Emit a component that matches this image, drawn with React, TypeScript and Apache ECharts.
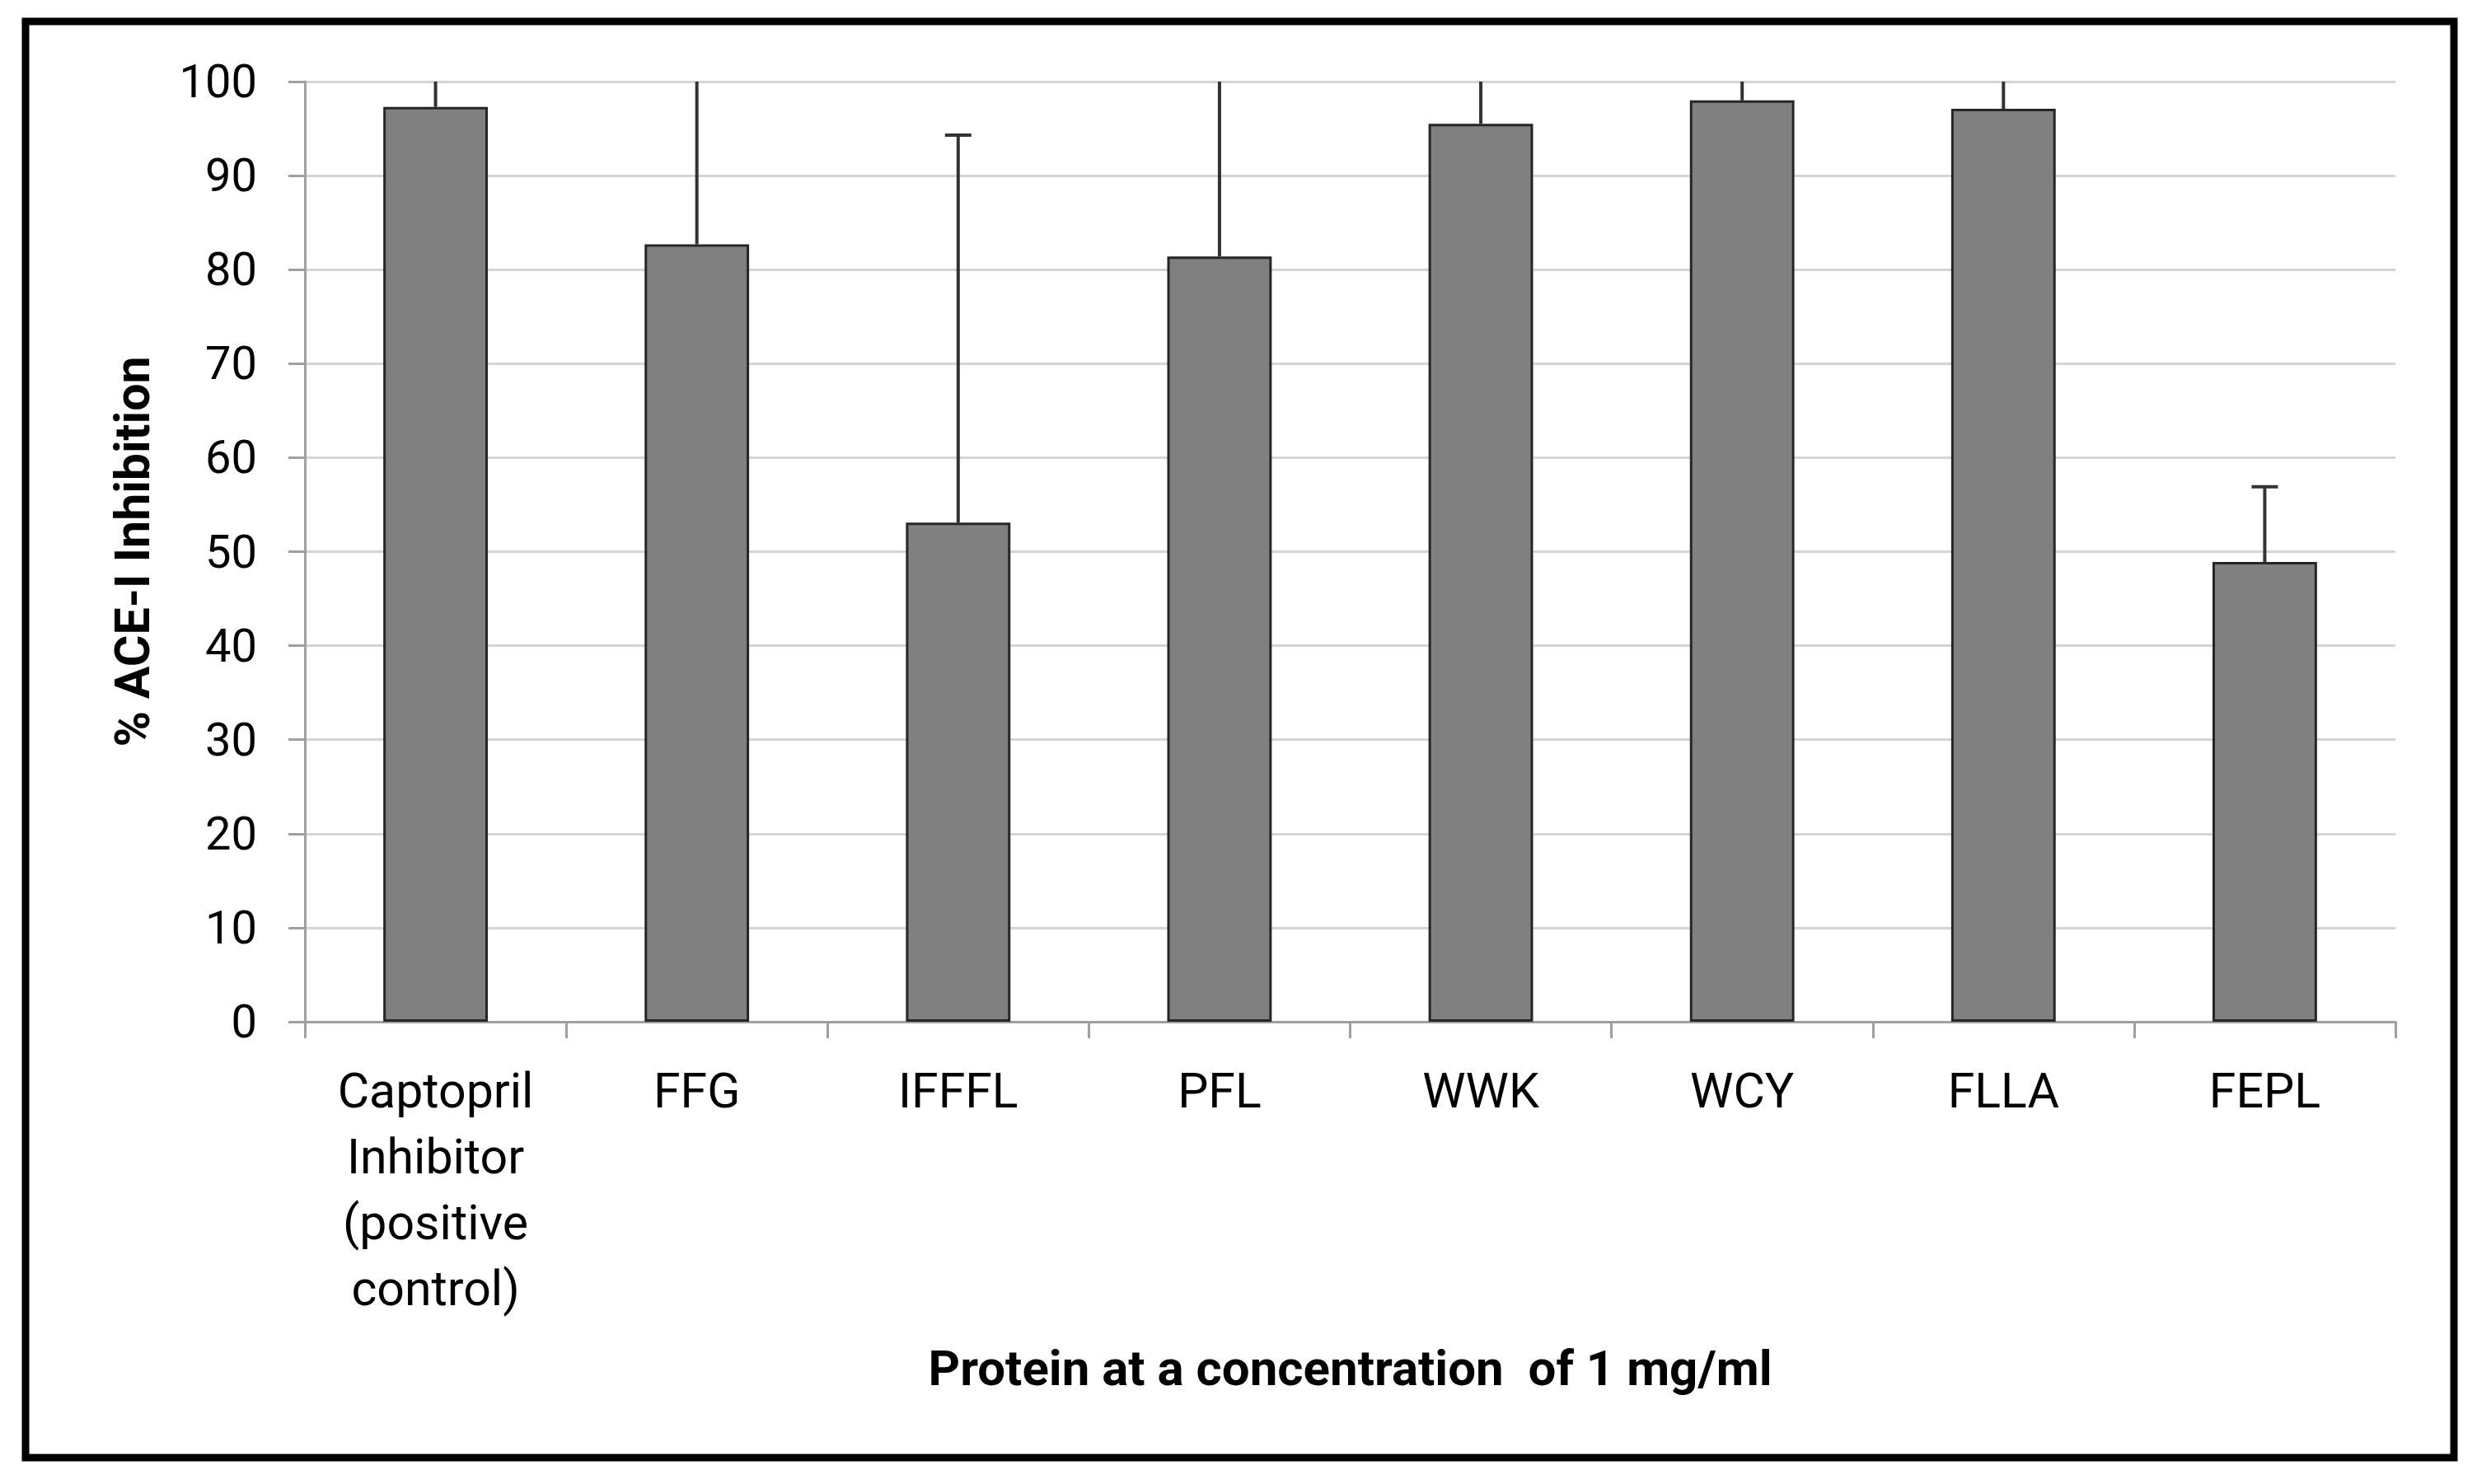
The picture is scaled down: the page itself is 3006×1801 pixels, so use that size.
import React, { useEffect, useRef } from "react";
import * as echarts from "echarts";

const categories = [
  "Captopril\nInhibitor\n(positive\ncontrol)",
  "FFG",
  "IFFFL",
  "PFL",
  "WWK",
  "WCY",
  "FLLA",
  "FEPL",
];
const values = [97.3, 82.7, 53.1, 81.4, 95.5, 98.0, 97.1, 48.9];
const errors = [6.0, 24.0, 41.2, 26.0, 9.0, 5.0, 7.0, 8.0];
const yTicks = { min: 0, max: 100, interval: 10 };

const W = 3006;
const H = 1801;
const labelFont = "Roboto, 'Open Sans', sans-serif";

export default function App() {
  const ref = useRef<HTMLDivElement>(null);
  useEffect(() => {
    document.body.style.margin = "0";
    const chart = echarts.init(ref.current!, null, { renderer: "svg" });
    const option = {
      animation: false,
      backgroundColor: "#ffffff",
      grid: { left: 370, right: W - 2907, top: 99, bottom: H - 1240, containLabel: false },
      xAxis: {
        type: "category",
        data: categories,
        axisLine: { show: true, lineStyle: { color: "#a0a0a0", width: 3 } },
        axisTick: { show: true, length: 20, lineStyle: { color: "#a0a0a0", width: 3 } },
        axisLabel: {
          interval: 0,
          margin: 43,
          color: "#000",
          fontFamily: labelFont,
          fontSize: 59,
          lineHeight: 80,
        },
        name: "Protein at a concentration  of 1 mg/ml",
        nameLocation: "middle",
        nameGap: 390,
        nameTextStyle: {
          color: "#000",
          fontFamily: labelFont,
          fontWeight: "bold",
          fontSize: 60,
        },
      },
      yAxis: {
        type: "value",
        min: yTicks.min,
        max: yTicks.max,
        interval: yTicks.interval,
        axisLine: { show: true, lineStyle: { color: "#a0a0a0", width: 3 } },
        axisTick: { show: true, length: 20, lineStyle: { color: "#a0a0a0", width: 3 } },
        splitLine: { show: true, lineStyle: { color: "#d4d4d4", width: 3 } },
        axisLabel: {
          margin: 58,
          color: "#000",
          fontFamily: labelFont,
          fontSize: 56,
        },
        name: "% ACE-I Inhibition",
        nameLocation: "middle",
        nameRotate: 90,
        nameGap: 180,
        nameTextStyle: {
          color: "#000",
          fontFamily: labelFont,
          fontWeight: "bold",
          fontSize: 59,
        },
      },
      series: [
        {
          type: "bar",
          data: values,
          barWidth: "40%",
          itemStyle: { color: "#808080", borderColor: "#262626", borderWidth: 3 },
          z: 2,
        },
        {
          type: "custom",
          z: 3,
          data: values.map((v, i) => [i, v, errors[i]]),
          renderItem: (params: any, api: any) => {
            const i = api.value(0);
            const v = api.value(1);
            const e = api.value(2);
            const hi = v + e;
            const top = Math.min(hi, yTicks.max);
            const p0 = api.coord([i, v]);
            const p1 = api.coord([i, top]);
            const style = { stroke: "#333333", lineWidth: 4 };
            const children: any[] = [
              { type: "line", shape: { x1: p0[0], y1: p0[1], x2: p1[0], y2: p1[1] }, style },
            ];
            if (hi <= yTicks.max) {
              children.push({
                type: "line",
                shape: { x1: p1[0] - 16, y1: p1[1], x2: p1[0] + 16, y2: p1[1] },
                style,
              });
            }
            return { type: "group", children };
          },
        },
      ],
      graphic: [
        {
          type: "rect",
          shape: { x: 31, y: 26, width: 2947, height: 1743 },
          style: { fill: "none", stroke: "#000", lineWidth: 9 },
          z: 10,
        },
      ],
    };
    chart.setOption(option as any);
    return () => chart.dispose();
  }, []);
  return <div ref={ref} style={{ width: W, height: H }} />;
}
